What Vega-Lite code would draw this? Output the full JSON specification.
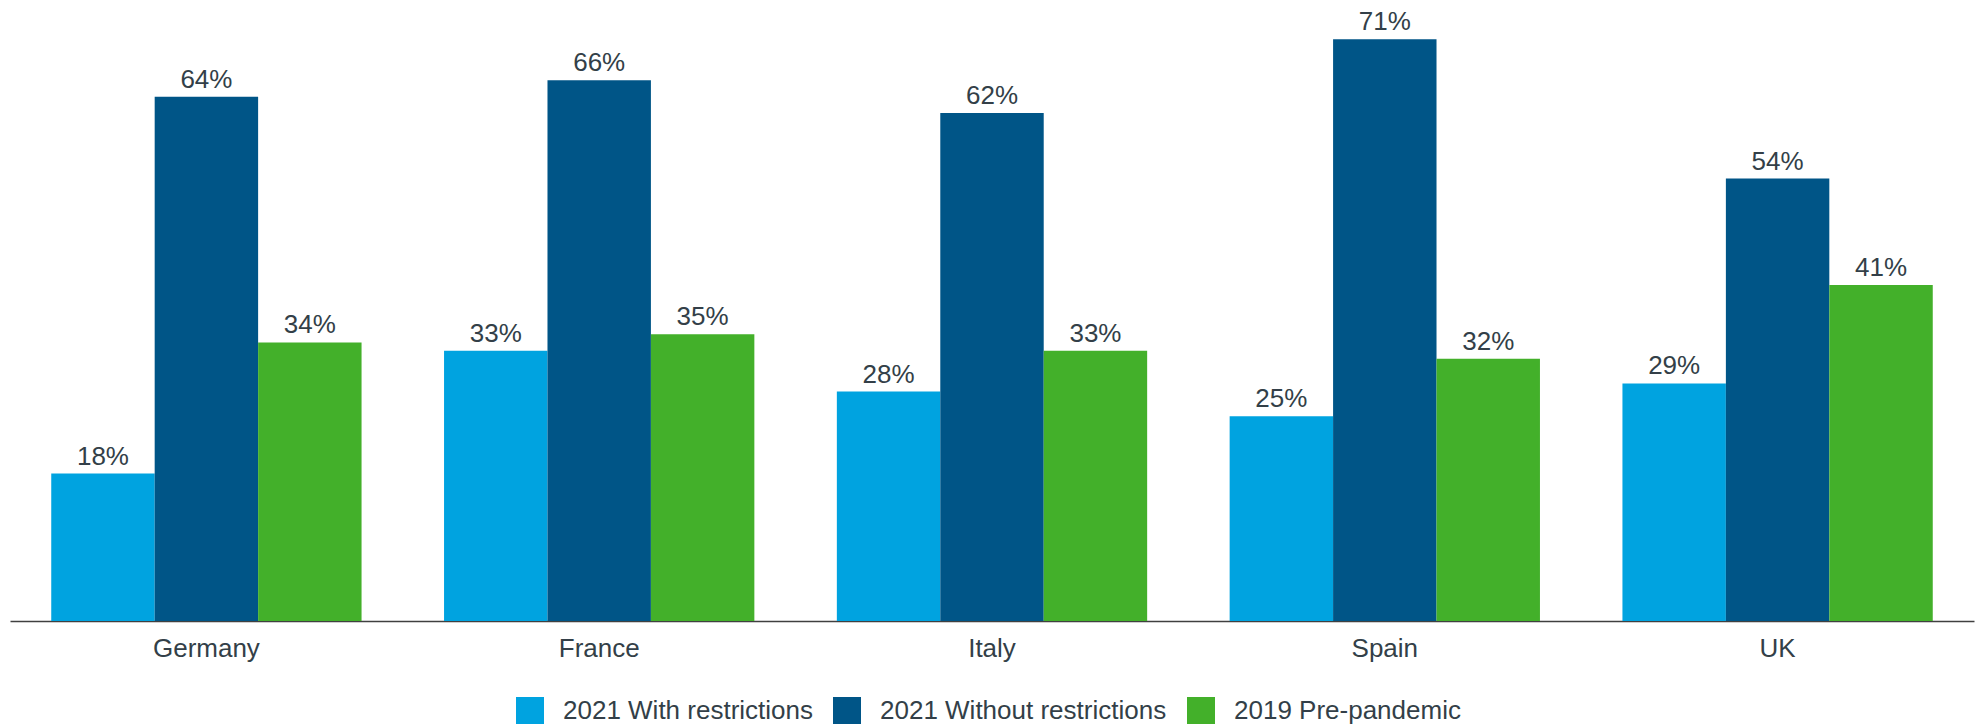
{
  "$schema": "https://vega.github.io/schema/vega-lite/v6.json",
  "width": 1964,
  "height": 621,
  "autosize": {"type": "none"},
  "padding": {"left": 10, "top": 0, "right": 4, "bottom": 103},
  "background": "white",
  "config": {"view": {"stroke": null}, "font": "Liberation Sans"},
  "data": {
    "values": [
      {"country": "Germany", "series": "2021 With restrictions", "value": 0.18},
      {"country": "Germany", "series": "2021 Without restrictions", "value": 0.64},
      {"country": "Germany", "series": "2019 Pre-pandemic", "value": 0.34},
      {"country": "France", "series": "2021 With restrictions", "value": 0.33},
      {"country": "France", "series": "2021 Without restrictions", "value": 0.66},
      {"country": "France", "series": "2019 Pre-pandemic", "value": 0.35},
      {"country": "Italy", "series": "2021 With restrictions", "value": 0.28},
      {"country": "Italy", "series": "2021 Without restrictions", "value": 0.62},
      {"country": "Italy", "series": "2019 Pre-pandemic", "value": 0.33},
      {"country": "Spain", "series": "2021 With restrictions", "value": 0.25},
      {"country": "Spain", "series": "2021 Without restrictions", "value": 0.71},
      {"country": "Spain", "series": "2019 Pre-pandemic", "value": 0.32},
      {"country": "UK", "series": "2021 With restrictions", "value": 0.29},
      {"country": "UK", "series": "2021 Without restrictions", "value": 0.54},
      {"country": "UK", "series": "2019 Pre-pandemic", "value": 0.41}
    ]
  },
  "encoding": {
    "x": {
      "field": "country",
      "type": "nominal",
      "sort": ["Germany", "France", "Italy", "Spain", "UK"],
      "scale": {"paddingInner": 0.21, "paddingOuter": 0.105},
      "axis": {
        "title": null,
        "labelAngle": 0,
        "ticks": false,
        "labelFontSize": 26,
        "labelColor": "#333f48",
        "labelPadding": 14,
        "domainColor": "#404040",
        "domainWidth": 1.5,
        "labelFont": "Liberation Sans"
      }
    },
    "xOffset": {
      "field": "series",
      "type": "nominal",
      "sort": ["2021 With restrictions", "2021 Without restrictions", "2019 Pre-pandemic"],
      "scale": {"paddingInner": 0, "paddingOuter": 0}
    },
    "y": {
      "field": "value",
      "type": "quantitative",
      "scale": {"domain": [0, 0.758]},
      "axis": null
    }
  },
  "layer": [
    {
      "mark": {"type": "bar"},
      "encoding": {
        "color": {
          "field": "series",
          "type": "nominal",
          "scale": {
            "domain": ["2021 With restrictions", "2021 Without restrictions", "2019 Pre-pandemic"],
            "range": ["#00A3E0", "#005587", "#43B02A"]
          },
          "legend": {
            "title": null,
            "orient": "none",
            "legendX": 506,
            "legendY": 697,
            "direction": "horizontal",
            "symbolType": "square",
            "symbolSize": 784,
            "symbolStrokeWidth": 0,
            "symbolOpacity": 1,
            "labelFontSize": 26,
            "labelFont": "Liberation Sans",
            "labelColor": "#333f48",
            "labelOffset": 19,
            "labelLimit": 0,
            "columnPadding": 20
          }
        }
      }
    },
    {
      "mark": {"type": "text", "baseline": "alphabetic", "dy": -9, "fontSize": 26, "color": "#333f48", "font": "Liberation Sans"},
      "encoding": {
        "text": {"field": "value", "type": "quantitative", "format": ".0%"}
      }
    }
  ]
}
